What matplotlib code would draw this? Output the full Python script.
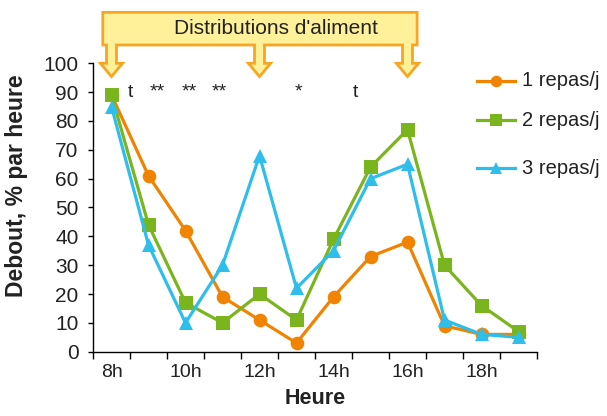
import matplotlib
matplotlib.use("Agg")
import matplotlib.pyplot as plt
from matplotlib.lines import Line2D
from matplotlib.patches import Polygon
import matplotlib.transforms as mtransforms

plt.rcParams['font.family'] = ['Liberation Sans', 'DejaVu Sans']

hours = ['8h', '9h', '10h', '11h', '12h', '13h', '14h', '15h', '16h', '17h', '18h', '19h']
repas1 = [89, 61, 42, 19, 11, 3, 19, 33, 38, 9, 6, 6]
repas2 = [89, 44, 17, 10, 20, 11, 39, 64, 77, 30, 16, 7]
repas3 = [85, 37, 10, 30, 68, 22, 35, 60, 65, 11, 6, 5]
series_labels = ['1 repas/j', '2 repas/j', '3 repas/j']
sig_labels = ['t', '**', '**', '**', '*', 't']
sig_pos = [0.5, 1.25, 2.1, 2.9, 5.05, 6.6]
feed_idx = [0, 4, 8]
banner_text = "Distributions d'aliment"

c_orange = '#F08300'
c_green = '#7AB51D'
c_blue = '#2EBEEC'
c_fill = '#FFF09A'
c_edge = '#F6A623'

fig = plt.figure(figsize=(6.07, 4.16), dpi=100)
ax = fig.add_axes([93/607, 1-351.7/416, 444/607, 288.4/416])

x = list(range(len(hours)))
styles = [(repas1, c_orange, 'o', 9.8), (repas2, c_green, 's', 9.8), (repas3, c_blue, '^', 9.8)]
for vals, col, mk, ms in styles:
    ax.plot(x, vals, color=col, marker=mk, markersize=ms, linewidth=2.3,
            markeredgewidth=0, clip_on=False, zorder=3)

ax.set_xlim(-0.5, len(hours) - 0.5)
ax.set_ylim(0, 100)
ax.set_yticks(range(0, 101, 10))
ax.tick_params(axis='y', labelsize=15, length=3.5, width=1, pad=7, direction='out',
               labelcolor='#222222')
ax.set_xticks([i - 0.5 for i in range(len(hours) + 1)])
ax.set_xticklabels([])
ax.tick_params(axis='x', which='major', length=5, width=1, direction='out')
ax.set_xticks(x[::2], minor=True)
ax.set_xticklabels(hours[::2], minor=True)
ax.tick_params(axis='x', which='minor', length=0, labelsize=14, pad=9, labelcolor='#222222')
for s in ['top', 'right']:
    ax.spines[s].set_visible(False)
for s in ['left', 'bottom']:
    ax.spines[s].set_linewidth(1)
ax.set_xlabel('Heure', fontsize=15.5, fontweight='bold', labelpad=5, color='#222222')
fig.text(17/607, 1-186/416, 'Debout, % par heure', rotation=90, fontsize=16.5,
         fontweight='bold', ha='center', va='center', color='#222222')

# significance marks
for lab, p in zip(sig_labels, sig_pos):
    ax.text(p, 88.4, lab, fontsize=14, ha='center', va='baseline', color='#222222')

# banner with arrows
trans = mtransforms.blended_transform_factory(ax.transData, ax.transAxes)
L, R = -0.235, 8.26
top, bot, hs, tip = 1.1768, 1.0635, 1.0, 0.954
sw, hw = 0.135, 0.30
verts = [(L, top), (R, top), (R, bot)]
for c in sorted(feed_idx, reverse=True):
    verts += [(c + sw, bot), (c + sw, hs), (c + hw, hs), (c, tip),
              (c - hw, hs), (c - sw, hs), (c - sw, bot)]
verts += [(L, bot)]
poly = Polygon(verts, closed=True, facecolor=c_fill, edgecolor=c_edge,
               linewidth=2, transform=trans, clip_on=False, zorder=4, joinstyle='miter')
ax.add_patch(poly)
fig.text(275.5/607, 1-28/416, banner_text, fontsize=15, ha='center', va='center',
         color='#222222', zorder=5)

# legend
leg_y = [81, 120, 168]
for (vals, col, mk, ms), lab, yy in zip(styles, series_labels, leg_y):
    yf = 1 - yy/416
    fig.add_artist(Line2D([477/607, 515/607], [yf, yf], color=col, linewidth=2.3,
                          transform=fig.transFigure))
    fig.add_artist(Line2D([496/607], [yf], color=col, marker=mk, markersize=ms * 0.85,
                          markeredgewidth=0, transform=fig.transFigure))
    fig.text(522/607, yf, lab, fontsize=14.5, ha='left', va='center', color='#222222')

fig.savefig('out.png', dpi=100)
